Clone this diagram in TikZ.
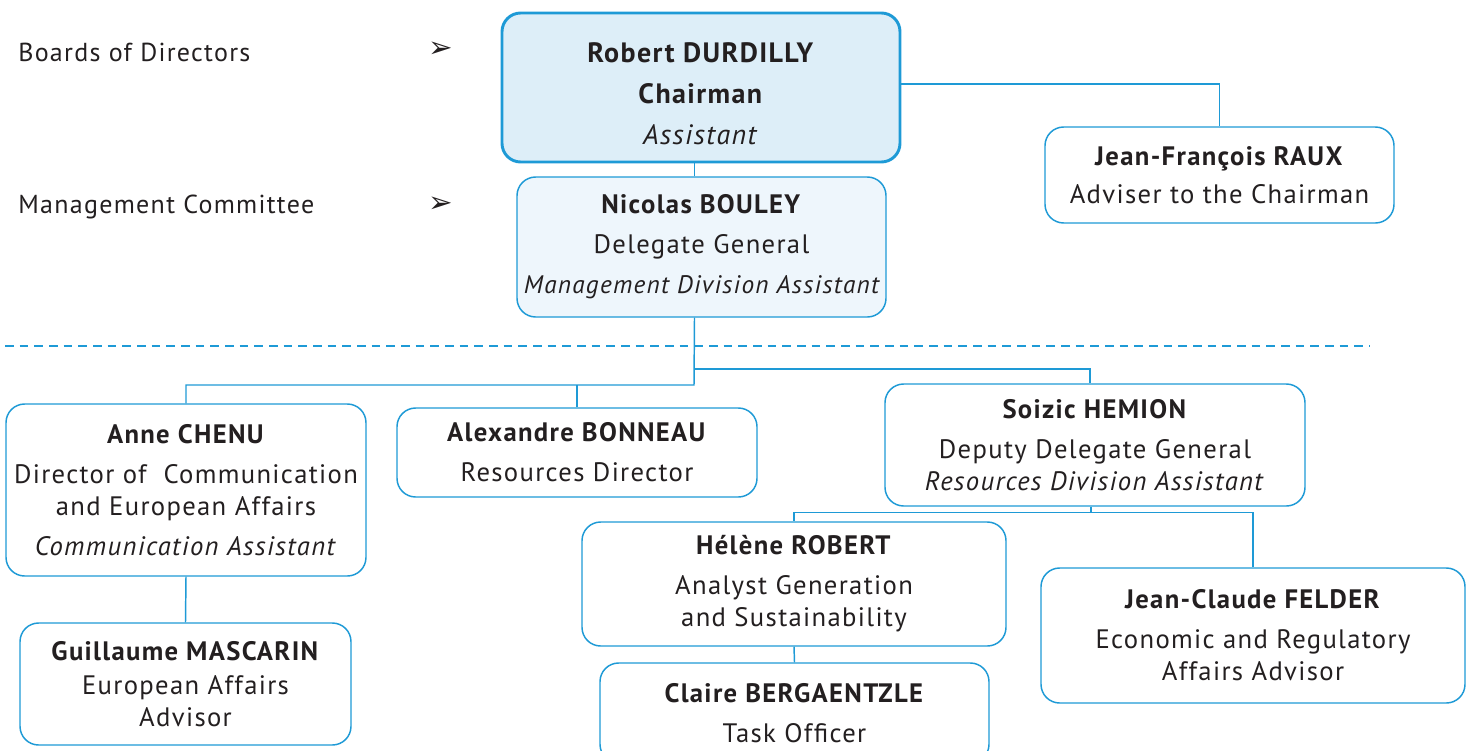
\documentclass[tikz,border=0pt]{standalone}
\usepackage{fontspec}
\setmainfont{PT Sans}[LetterSpace=5]
\newfontfamily\symfont{DejaVu Sans}
\definecolor{lineblue}{HTML}{1E9AD6}
\definecolor{chairfill}{HTML}{DDEEF8}
\definecolor{delegfill}{HTML}{EEF6FC}
\definecolor{textdark}{HTML}{231F20}
\tikzset{
    box/.style={draw=lineblue, line width=1.1pt, rounded corners=14pt, fill=white,
        align=center, inner sep=0pt, text=textdark,
        font=\fontsize{20}{24}\selectfont},
    link/.style={draw=lineblue, line width=1.1pt},
    sidelabel/.style={anchor=west, inner sep=0pt, text=textdark,
        font=\fontsize{19.5}{22}\selectfont},
    pointer/.style={inner sep=0pt, text=textdark, font=\symfont\fontsize{22}{24}\selectfont}
}
\begin{document}
\begin{tikzpicture}[x=0.75pt,y=-0.75pt]
            \useasboundingbox (0,0) rectangle (1471,750);
            %levels on the left
            \node[sidelabel] (boards) at (18,52) {Boards of Directors};
            \node[pointer] (boardsarrow) at (441,50) {➢};
            \node[sidelabel] (committee) at (18,207) {Management Committee};
            \node[pointer] (committeearrow) at (441,205) {➢};
            %
            %chairman and delegate general
            \node[box, fill=chairfill, line width=2.2pt, minimum width=298.5pt, minimum height=111.75pt,
                font=\fontsize{21}{31}\selectfont] (chair) at (701,87.5)
                {\rule{0pt}{24pt}\textbf{Robert DURDILLY}\\\textbf{Chairman}\\\textit{Assistant}};
            \node[box, fill=delegfill, minimum width=276.75pt, minimum height=105pt,
                font=\fontsize{20}{30}\selectfont] (bouley) at (701.5,247)
                {\textbf{Nicolas BOULEY}\\Delegate General\\{\fontsize{19}{30}\selectfont\itshape Management Division Assistant}};
            \node[box, minimum width=261.75pt, minimum height=72pt,
                font=\fontsize{20}{28.5}\selectfont] (raux) at (1219.5,175)
                {\textbf{Jean-François RAUX}\\Adviser to the Chairman};
            %
            %separation
            \coordinate (dashleft) at (5,346);
            \coordinate (dashright) at (1370,346);
            \draw[lineblue, line width=1pt, dash pattern=on 6.5pt off 4.5pt] (dashleft) -- (dashright);
            %
            %directors
            \node[box, minimum width=270pt, minimum height=129pt] (chenu) at (186,490)
                {\textbf{Anne CHENU}\\[6pt]Director of\ \ Communication\\and European Affairs\\[6pt]\textit{Communication Assistant}};
            \node[box, minimum width=270pt, minimum height=66.75pt] (bonneau) at (577,452.5)
                {\textbf{Alexandre BONNEAU}\\[6pt]Resources Director};
            \node[box, minimum width=315pt, minimum height=91.5pt] (hemion) at (1095,445)
                {\textbf{Soizic HEMION}\\[6pt]Deputy Delegate General\\\textit{Resources Division Assistant}};
            \node[box, minimum width=318pt, minimum height=93pt] (robert) at (794,584)
                {\textbf{Hélène ROBERT}\\[6pt]Analyst Generation\\and Sustainability};
            \node[box, minimum width=318pt, minimum height=101.25pt] (felder) at (1253,635.5)
                {\textbf{Jean-Claude FELDER}\\[6pt]Economic and Regulatory\\Affairs Advisor};
            \node[box, minimum width=248.25pt, minimum height=91.5pt] (mascarin) at (185.5,684)
                {\textbf{Guillaume MASCARIN}\\[2pt]European Affairs\\Advisor};
            \node[box, minimum width=291.75pt, minimum height=75pt] (bergaentzle) at (794.5,713)
                {\textbf{Claire BERGAENTZLE}\\[6pt]Task Officer};
            %
            %connectors
            \draw[link] ([xshift=-5.25pt]bouley.north) -- ([xshift=-5.25pt]bouley.north |- chair.south);
            \draw[link] ([yshift=2.6pt]chair.east) -| (raux.north);
            \coordinate (busleft) at (694,385);
            \coordinate (busright) at (694,369);
            \draw[link] ([xshift=-5.25pt]bouley.south) -- (busleft) -| (chenu.north);
            \draw[link] (bonneau.north) -- (bonneau.north |- busleft);
            \draw[link] (busright) -| ([xshift=-3.75pt]hemion.north);
            \draw[link] ([xshift=-3pt]hemion.south) -- ++(0,6) coordinate (hemionsplit);
            \draw[link] (hemionsplit) -| (robert.north);
            \draw[link] (hemionsplit) -| (felder.north);
            \draw[link] (robert.south) -- (bergaentzle.north);
            \draw[link] (chenu.south) -- (mascarin.north);
            %
        \end{tikzpicture}
\end{document}
